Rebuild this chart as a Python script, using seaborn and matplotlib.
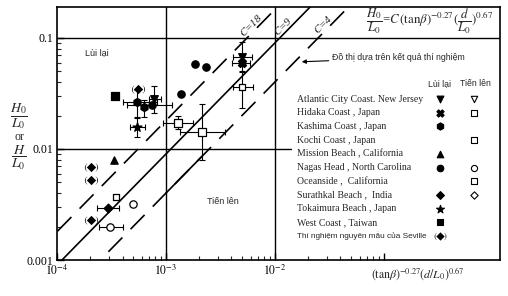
import numpy as np
import pandas as pd
import matplotlib
matplotlib.use("Agg")
import matplotlib.pyplot as plt
import seaborn as sns
from matplotlib.ticker import FixedLocator, FixedFormatter, NullFormatter

sns.set_theme(style="white")
plt.rcParams['font.family'] = ['Liberation Serif', 'DejaVu Serif']
plt.rcParams['mathtext.fontset'] = 'stix'

# ---------------- data ----------------
pt_site = ["Seville", "Seville", "Seville", "Seville", "West", "Kashima", "Kashima",
           "Atlantic", "Nags", "Tokaimura", "Nags", "Nags", "Nags", "Hidaka", "Hidaka",
           "Atlantic", "Hidaka", "Kochi", "Mission", "Oceanside", "Nags", "Surathkal", "Nags"]
pt_state = ["L", "L", "L", "L", "L", "L", "L",
            "L", "L", "L", "L", "L", "L", "T", "T",
            "L", "L", "T", "L", "T", "T", "L", "T"]
pt_x = [5.53e-4, 2.05e-4, 2.05e-4, 2.05e-4, 3.40e-4, 5.42e-4, 6.28e-4,
        7.76e-4, 7.44e-4, 5.42e-4, 1.85e-3, 2.33e-3, 1.37e-3, 1.29e-3, 2.14e-3,
        4.98e-3, 4.98e-3, 4.98e-3, 3.33e-4, 3.48e-4, 4.98e-4, 2.94e-4, 3.06e-4]
pt_y = [0.0348, 0.00689, 0.00526, 0.00229, 0.0300, 0.0265, 0.0239,
        0.0282, 0.0249, 0.0158, 0.0584, 0.0548, 0.0313, 0.0171, 0.0142,
        0.0675, 0.0596, 0.0362, 0.00796, 0.0037, 0.0032, 0.00294, 0.00198]
nan = np.nan
x_lo = [nan, nan, nan, nan, nan, 4.03e-4, nan,
        6.98e-4, 4.39e-4, 4.68e-4, nan, nan, nan, 9.38e-4, 1.34e-3,
        4.12e-3, 4.03e-3, 4.12e-3, nan, nan, nan, 2.33e-4, 2.43e-4]
x_hi = [nan, nan, nan, nan, nan, 8.27e-4, nan,
        9.0e-4, 1.14e-3, 6.42e-4, nan, nan, nan, 1.77e-3, 3.48e-3,
        6.15e-3, 5.9e-3, 6.28e-3, nan, nan, nan, 3.71e-4, 4.03e-4]
y_lo = [nan, nan, nan, nan, nan, 0.0194, 0.0194,
        0.0211, nan, 0.0128, nan, nan, nan, 0.0151, 0.00794,
        0.050, nan, 0.0234, nan, nan, nan, nan, nan]
y_hi = [nan, nan, nan, nan, nan, 0.034, 0.0276,
        0.037, nan, 0.0191, nan, nan, nan, 0.0198, 0.0254,
        0.092, nan, 0.0494, nan, nan, nan, nan, nan]

C_values = [18, 9, 4]
C_styles = ["dashed", "solid", "dashed"]

legend_sites = ["Atlantic", "Hidaka", "Kashima", "Kochi", "Mission", "Nags",
                "Oceanside", "Surathkal", "Tokaimura", "West", "Seville"]
legend_labels = ["Atlantic City Coast. New Jersey", "Hidaka Coast , Japan",
                 "Kashima Coast , Japan", "Kochi Coast , Japan",
                 "Mission Beach , California", "Nagas Head , North Carolina",
                 "Oceanside ,  California", "Surathkal Beach ,  India",
                 "Tokaimura Beach , Japan", "West Coast , Taiwan",
                 "Thí nghiệm nguyên mẫu của Seville"]
legend_has = {"Atlantic": "LT", "Hidaka": "LT", "Kashima": "L", "Kochi": "T",
              "Mission": "L", "Nags": "LT", "Oceanside": "T", "Surathkal": "LT",
              "Tokaimura": "L", "West": "L", "Seville": "L"}

markers = {"Atlantic": "v", "Hidaka": "X", "Kashima": "h", "Kochi": "s",
           "Mission": "^", "Nags": "o", "Oceanside": "s", "Surathkal": "D",
           "Tokaimura": "*", "West": "s", "Seville": r"$(\!◆\!)$"}
open_markers = {"Hidaka": "s", "Kochi": "s"}
sizes = {"Atlantic": 30, "Hidaka": 34, "Kashima": 34, "Kochi": 24, "Mission": 28,
         "Nags": 28, "Oceanside": 20, "Surathkal": 20, "Tokaimura": 45, "West": 26,
         "Seville": 90}

df = pd.DataFrame(dict(site=pt_site, state=pt_state, x=pt_x, y=pt_y,
                       xlo=x_lo, xhi=x_hi, ylo=y_lo, yhi=y_hi))

# ---------------- figure ----------------
W, H = 508, 296
fig = plt.figure(figsize=(W / 100, H / 100), dpi=100)
ax = fig.add_axes([57 / W, 1 - 260 / H, (500 - 57) / W, (260 - 7) / H])
ax.set_xscale("log")
ax.set_yscale("log")
ax.set_xlim(1e-4, 1.17)
ax.set_ylim(1e-3, 0.19)

# frame lines
ax.axhline(0.1, color="black", lw=1.0, zorder=2)
ax.plot([1e-4, 1.4e-2], [0.01, 0.01], color="black", lw=1.0, zorder=2)
ax.axvline(1e-3, color="black", lw=1.0, zorder=2)
ax.axvline(1e-2, color="black", lw=1.0, zorder=2)

# C lines
xx = np.logspace(-4.2, 0.2, 50)
for C, st in zip(C_values, C_styles):
    if st == "dashed":
        ax.plot(xx, C * xx, color="black", lw=1.2, dashes=(12, 7), zorder=2)
    else:
        ax.plot(xx, C * xx, color="black", lw=1.2, zorder=2)
# solid part of C=4 between 1e-3 and the Hidaka error bar
seg = np.array([1e-3, 2.14e-3])
ax.plot(seg, C_values[2] * seg, color="black", lw=1.2, zorder=2)

# C labels
for C, xl in zip(C_values, [6.6e-3, 1.30e-2, 3.05e-2]):
    ax.annotate(f"$C$={C}", xy=(xl, C * xl), xytext=(-3, 3), textcoords="offset points",
                rotation=45, ha="center", va="center", fontsize=8, fontstyle="italic",
                rotation_mode="anchor")

# error bars
eb = df.dropna(subset=["xlo"])
ax.errorbar(eb["x"], eb["y"], xerr=[eb["x"] - eb["xlo"], eb["xhi"] - eb["x"]],
            fmt="none", ecolor="black", elinewidth=0.8, capsize=2, capthick=0.8, zorder=3)
eb = df.dropna(subset=["ylo"])
ax.errorbar(eb["x"], eb["y"], yerr=[eb["y"] - eb["ylo"], eb["yhi"] - eb["y"]],
            fmt="none", ecolor="black", elinewidth=0.8, capsize=2, capthick=0.8, zorder=3)

# points
for (site, state), grp in df.groupby(["site", "state"]):
    if state == "L":
        m = markers[site]
        fc = "black"
    else:
        m = open_markers.get(site, markers[site])
        fc = "white"
    lw = 0 if site == "Seville" else 0.9
    sns.scatterplot(data=grp, x="x", y="y", marker=m, s=sizes[site], color=fc,
                    edgecolor="black", linewidth=lw, ax=ax, legend=False, zorder=4)

# ticks
ax.xaxis.set_major_locator(FixedLocator([1e-4, 1e-3, 1e-2, 1e-1]))
ax.xaxis.set_major_formatter(FixedFormatter([r"$10^{-4}$", r"$10^{-3}$", r"$10^{-2}$", ""]))
ax.xaxis.set_minor_locator(FixedLocator([k * 10.0 ** d for d in (-4, -3, -2) for k in range(2, 10)]))
ax.xaxis.set_minor_formatter(NullFormatter())
ax.yaxis.set_major_locator(FixedLocator([1e-3, 1e-2, 1e-1]))
ax.yaxis.set_major_formatter(FixedFormatter(["0.001", "0.01", "0.1"]))
ax.yaxis.set_minor_locator(FixedLocator([k * 10.0 ** d for d in (-3, -2) for k in range(2, 10)]))
ax.yaxis.set_minor_formatter(NullFormatter())
ax.tick_params(which="major", direction="in", length=5, width=1, labelsize=8.5,
               bottom=True, left=True, pad=3, colors="black")
ax.tick_params(which="minor", direction="in", length=3, width=0.8, bottom=True, left=True)
for sp in ax.spines.values():
    sp.set_color("black")
    sp.set_linewidth(1.2)
ax.set_xlabel("")
ax.set_ylabel("")

# axis labels
fig.text(19 / W, 1 - 116 / H, r"$\dfrac{H_0}{L_0}$", ha="center", va="center", fontsize=10)
fig.text(19 / W, 1 - 137 / H, "or", ha="center", va="center", fontsize=8.5)
fig.text(19 / W, 1 - 158 / H, r"$\dfrac{H}{L_0}$", ha="center", va="center", fontsize=10)
fig.text(418 / W, 1 - 274 / H, r"$(\mathrm{tan}\beta)^{-0.27}(d/L_0)^{0.67}$",
         ha="center", va="center", fontsize=8.5)
fig.text(430 / W, 1 - 21 / H,
         r"$\dfrac{H_0}{L_0}$=$C\,(\mathrm{tan}\beta)^{-0.27}(\dfrac{d}{L_0})^{0.67}$",
         ha="center", va="center", fontsize=9.3)

sans = ["Liberation Sans", "DejaVu Sans"]
fig.text(97 / W, 1 - 53 / H, "Lùi lại", ha="center", va="center", fontsize=6.5, family=sans)
fig.text(223 / W, 1 - 202 / H, "Tiến lên", ha="center", va="center", fontsize=6.5, family=sans)

ax.annotate("Đồ thị dựa trên kết quả thí nghiệm", xy=(0.0177, 0.061),
            xytext=(332 / W, 1 - 58 / H), textcoords="figure fraction",
            ha="left", va="center", fontsize=6.3, family=sans,
            arrowprops=dict(arrowstyle="-|>", color="black", lw=0.8,
                            mutation_scale=6, shrinkA=0, shrinkB=0))

# legend block
fig.text(440 / W, 1 - 84 / H, "Lùi lại", ha="center", va="center", fontsize=6.3, family=sans)
fig.text(475 / W, 1 - 84 / H, "Tiến lên", ha="center", va="center", fontsize=6.3, family=sans)
for i, (site, lab) in enumerate(zip(legend_sites, legend_labels)):
    ypx = 99 + i * 13.7
    if site == "Seville":
        fam, fs = sans, 5.9
    else:
        fam, fs = ["Liberation Serif"], 7
    fig.text(297 / W, 1 - ypx / H, lab, ha="left", va="center", fontsize=fs, family=fam)
    if "L" in legend_has[site]:
        ax.scatter([440 / W], [1 - ypx / H], transform=fig.transFigure, marker=markers[site],
                   s=sizes[site] * 0.8, color="black", edgecolor="black",
                   linewidth=0 if site == "Seville" else 0.8, clip_on=False, zorder=5)
    if "T" in legend_has[site]:
        ax.scatter([474 / W], [1 - ypx / H], transform=fig.transFigure,
                   marker=open_markers.get(site, markers[site]), s=sizes[site] * 0.7,
                   color="white", edgecolor="black", linewidth=0.8, clip_on=False, zorder=5)

fig.savefig("out.png", dpi=100)
